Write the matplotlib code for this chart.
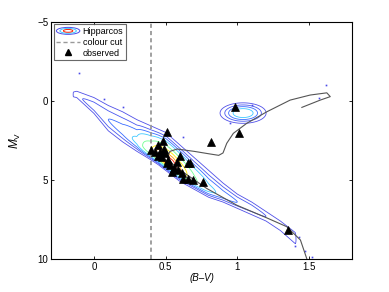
import matplotlib
matplotlib.use('Agg')
import matplotlib.pyplot as plt
import numpy as np
from matplotlib.legend_handler import HandlerBase
from matplotlib.patches import Ellipse
from matplotlib.lines import Line2D

plt.rcParams['font.family'] = ['Liberation Sans', 'DejaVu Sans']
plt.rcParams['mathtext.fontset'] = 'custom'
plt.rcParams['mathtext.rm'] = 'Liberation Sans'
plt.rcParams['mathtext.it'] = 'Liberation Sans:italic'

# Hipparcos main-sequence band (B-V nodes, ridge and outer edges in M_V)
band_bv = [-0.17, -0.12, 0.0, 0.1, 0.2, 0.3, 0.4, 0.45, 0.5, 0.55, 0.6, 0.65, 0.7, 0.8, 0.9, 1.0, 1.1, 1.2, 1.3, 1.4, 1.47]
band_ridge = [-0.4, -0.35, 0.4, 1.2, 1.9, 2.6, 3.2, 3.45, 3.75, 4.05, 4.4, 4.7, 5.0, 5.6, 6.0, 6.4, 6.8, 7.3, 7.9, 8.7, 9.3]
band_top = [-0.5, -0.6, -0.2, 0.3, 0.7, 1.2, 1.6, 1.8, 2.0, 2.4, 2.8, 3.2, 3.6, 4.4, 5.2, 5.9, 6.4, 7.0, 7.6, 8.3, 9.0]
band_bottom = [-0.3, -0.2, 0.8, 1.9, 2.6, 3.2, 3.75, 4.05, 4.4, 4.75, 5.1, 5.35, 5.6, 6.1, 6.4, 6.8, 7.2, 7.6, 8.2, 9.0, 9.5]
band_peak = [0.0, 0.04, 0.07, 0.09, 0.11, 0.17, 0.5, 0.85, 1.0, 0.95, 0.75, 0.5, 0.33, 0.18, 0.12, 0.09, 0.07, 0.05, 0.035, 0.023, 0.0]

# red clump
clump_bv, clump_mv = 1.04, 0.78
clump_sbv, clump_smv = 0.072, 0.29
clump_peak = 0.24

levels = [0.02, 0.05, 0.09, 0.15, 0.3, 0.5, 0.7, 0.85]
level_colors = ['#5050e8', '#4a58f0', '#3a6cff', '#40c8ff', '#70ff90', '#ffee00', '#ff9900', '#ff2000']

# isochrone
iso_bv = [1.485, 1.44, 1.345, 1.205, 0.996, 0.786, 0.70, 0.62, 0.55, 0.51, 0.53, 0.58, 0.70, 0.80, 0.87, 0.90,
          0.926, 0.972, 1.065, 1.205, 1.368, 1.508, 1.624, 1.648, 1.578, 1.45]
iso_mv = [10.0, 8.8, 7.96, 7.4, 6.6, 5.54, 5.0, 4.5, 4.0, 3.6, 3.2, 3.05, 3.2, 3.35, 3.45, 3.3,
          2.69, 2.06, 1.43, 0.70, -0.04, -0.36, -0.50, -0.26, -0.04, 0.42]

# observed stars
obs_bv = [0.984, 1.012, 0.816, 0.506, 0.483, 0.448, 0.40, 0.424, 0.459, 0.49, 0.494, 0.448, 0.476, 0.517,
          0.60, 0.653, 0.67, 0.506, 0.529, 0.576, 0.56, 0.587, 0.611, 0.622, 0.657, 0.692, 0.762, 0.541, 1.35]
obs_mv = [0.38, 2.06, 2.62, 1.96, 2.53, 2.8, 3.12, 3.22, 3.22, 3.07, 3.33, 3.5, 3.58, 3.75,
          3.5, 3.96, 3.96, 3.96, 4.07, 3.86, 4.27, 4.38, 4.59, 4.97, 4.97, 5.01, 5.12, 4.49, 8.15]

# isolated Hipparcos stars
stray_bv = [-0.107, 1.62, 1.57, 1.52, 0.07, 1.40, 0.62, 0.2, 1.1, 0.95, 1.43, 1.47]
stray_mv = [-1.73, -0.99, -0.2, 9.9, -0.1, 9.2, 2.3, 0.4, 0.3, 1.4, 8.6, 9.5]

fig = plt.figure(figsize=(3.89, 2.92), dpi=100)
ax = fig.add_axes([0.131, 0.113, 0.774, 0.813])

gx = np.linspace(-0.3, 1.8, 500)
gy = np.linspace(-5, 10, 500)
X, Y = np.meshgrid(gx, gy)
ridge = np.interp(X, band_bv, band_ridge)
top = np.interp(X, band_bv, band_top)
bottom = np.interp(X, band_bv, band_bottom)
peak = np.interp(X, band_bv, band_peak, left=0, right=0)
k = np.sqrt(2 * np.log(np.maximum(peak, 0.021) / levels[0]))
s_up = np.maximum(ridge - top, 0.05) / k
s_lo = np.maximum(bottom - ridge, 0.05) / k
d = Y - ridge
sig = np.where(d < 0, s_up, s_lo)
Z = peak * np.exp(-0.5 * (d / sig) ** 2)
u = (X - clump_bv) / clump_sbv
v = (Y - clump_mv) / clump_smv
Z = Z + clump_peak * np.exp(-0.5 * (u ** 2 + v ** 2))

ax.contour(X, Y, Z, levels=levels, colors=level_colors, linewidths=0.6)
ax.plot(stray_bv, stray_mv, 's', ms=1.2, color='#4a4ae8', mec='none')
ax.axvline(0.4, color='#999999', lw=1.3, ls=(0, (2.3, 1.7)))
ax.plot(iso_bv, iso_mv, color='#555555', lw=0.8)
ax.plot(obs_bv, obs_mv, '^', color='black', ms=6, mec='black', mew=0.5)

ax.set_xlim(-0.3, 1.8)
ax.set_ylim(10, -5)
ax.set_xticks([0, 0.5, 1, 1.5])
ax.set_xticklabels(['0', '0.5', '1', '1.5'])
ax.set_yticks([-5, 0, 5, 10])
ax.set_yticklabels(['\u22125', '0', '5', '10'])
ax.tick_params(direction='in', length=2.5, width=0.6, top=True, right=True, labelsize=7, pad=2)
for sp in ax.spines.values():
    sp.set_linewidth(0.8)
ax.set_xlabel('(B\u2013V)', fontsize=7, style='italic', labelpad=1)
ax.set_ylabel(r'$\mathit{M}_{\mathrm{V}}$', fontsize=8.5, labelpad=10)


class HandlerRings(HandlerBase):
    def create_artists(self, legend, orig_handle, xdescent, ydescent, width, height, fontsize, trans):
        cx = width / 2 - xdescent
        cy = height / 2 - ydescent
        arts = []
        for f, c in zip([1.0, 0.7, 0.4], ['#4a4ae8', '#40c8ff', '#ff2000']):
            arts.append(Ellipse((cx, cy), width * f, height * 1.1 * f, fill=False, edgecolor=c, lw=0.7, transform=trans))
        return arts


rings = Ellipse((0, 0), 1, 1)
cut = Line2D([], [], color='#999999', lw=1.0, ls=(0, (3, 2)))
tri = Line2D([], [], color='black', marker='^', ls='none', ms=4)
leg = ax.legend([rings, cut, tri], ['Hipparcos', 'colour cut', 'observed'], handler_map={rings: HandlerRings()},
                loc='upper left', fontsize=6.5, frameon=True, fancybox=False, handlelength=2.6,
                borderpad=0.3, labelspacing=0.2, handletextpad=0.3, borderaxespad=0.3)
leg.get_frame().set_edgecolor('#444444')
leg.get_frame().set_linewidth(0.8)

plt.savefig('out.png', dpi=100)
